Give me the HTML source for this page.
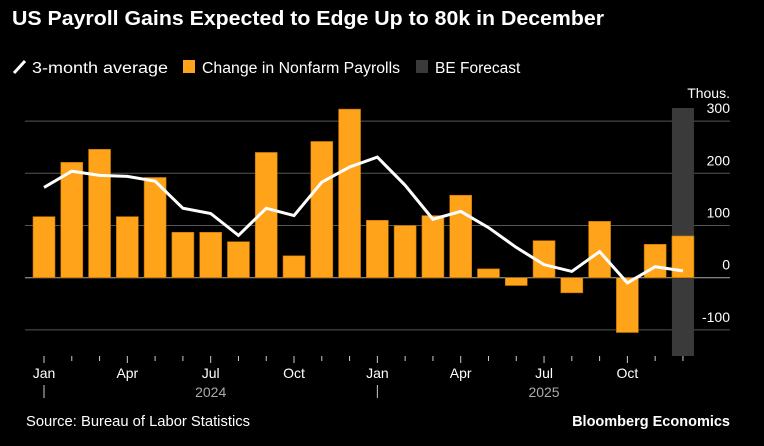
<!DOCTYPE html>
<html><head><meta charset="utf-8"><style>
body{margin:0;background:#000;width:764px;height:441px;overflow:hidden;font-family:"Liberation Sans",sans-serif;}
svg text{font-family:"Liberation Sans",sans-serif;}
</style></head><body>
<svg width="764" height="441">
<text x="12" y="25" fill="#fff" font-size="20" font-weight="bold" textLength="592" lengthAdjust="spacingAndGlyphs">US Payroll Gains Expected to Edge Up to 80k in December</text>
<g>
<line x1="14" y1="73" x2="25" y2="61" stroke="#fff" stroke-width="3"/>
<text x="32" y="73" fill="#fff" font-size="15.5" textLength="136" lengthAdjust="spacingAndGlyphs">3-month average</text>
<rect x="183" y="60" width="12" height="13" fill="#ffa31a"/>
<text x="202" y="73" fill="#fff" font-size="15.5" textLength="198" lengthAdjust="spacingAndGlyphs">Change in Nonfarm Payrolls</text>
<rect x="416" y="60" width="12" height="13" fill="#3a3a3a"/>
<text x="435" y="73" fill="#fff" font-size="15.5">BE Forecast</text>
</g>
<g id="grid"></g><g id="bars"></g><g id="line"></g><g id="axis"></g>
<text x="730" y="98" fill="#fff" font-size="14" text-anchor="end">Thous.</text>
<text x="26" y="426" fill="#fff" font-size="14.5" textLength="224" lengthAdjust="spacingAndGlyphs">Source: Bureau of Labor Statistics</text>
<text x="730" y="426" fill="#fff" font-size="14.5" font-weight="bold" text-anchor="end">Bloomberg Economics</text>
</svg>
<script>
const months=["Jan24","Feb24","Mar24","Apr24","May24","Jun24","Jul24","Aug24","Sep24","Oct24","Nov24","Dec24","Jan25","Feb25","Mar25","Apr25","May25","Jun25","Jul25","Aug25","Sep25","Oct25","Nov25","Dec25"];
const payrolls=[117,221,246,117,192,87,87,69,240,42,261,323,110,100,119,158,17,-15,71,-29,108,-105,64,80];
const avg3=[173,204,196,194,185,133,123,81,133,119,183,212,231,177,112,127,96,58,25,12,50,-10,21,13];
const yTicks=[300,200,100,0,-100];
const monthLabels=[["Jan",0],["Apr",3],["Jul",6],["Oct",9],["Jan",12],["Apr",15],["Jul",18],["Oct",21]];
const yearLabels=[["2024",6],["2025",18]];
const forecastIndex=23;
const NS="http://www.w3.org/2000/svg";
const y=v=>277.7-v*0.522;
const x=i=>44+i*27.78;
function mk(t,a,p){const e=document.createElementNS(NS,t);for(const k in a)e.setAttribute(k,a[k]);document.getElementById(p).appendChild(e);return e;}
yTicks.forEach(v=>{
 const l=mk("line",{x1:25,x2:730,y1:y(v),y2:y(v),stroke:v===0?"#aaa":"#555","stroke-width":1},"grid");
 
 
 const t=mk("text",{x:730,y:y(v)-8,fill:"#fff","font-size":14,"text-anchor":"end"},"grid");
 t.textContent=v;
 
 
});
const fb=mk("rect",{x:x(forecastIndex)-11,y:108,width:22,height:248,fill:"#3a3a3a"},"bars");


payrolls.forEach((v,i)=>{
 const r=mk("rect",{x:x(i)-11,y:Math.min(y(v),y(0)),width:22,height:Math.abs(y(v)-y(0)),fill:"#ffa31a",stroke:"#b86e00","stroke-width":0.6},"bars");
 
 
});
const p=mk("polyline",{points:avg3.map((v,i)=>x(i)+","+y(v)).join(" "),fill:"none",stroke:"#fff","stroke-width":3,"stroke-linejoin":"miter"},"line");


months.forEach((m,i)=>{
 const major=i%3===0;
 const tk=mk("line",{x1:x(i),x2:x(i),y1:356,y2:major?363:361,stroke:"#ccc","stroke-width":1},"axis");
 
 
});
monthLabels.forEach(([s,i])=>{
 const t=mk("text",{x:x(i),y:378,fill:"#fff","font-size":14,"text-anchor":"middle"},"axis");
 t.textContent=s;
 
 
});
[0,12].forEach(i=>{
 const l=mk("line",{x1:x(i),x2:x(i),y1:385,y2:398,stroke:"#ccc","stroke-width":1},"axis");
 
 
});
yearLabels.forEach(([s,i])=>{
 const t=mk("text",{x:x(i),y:397,fill:"#aaa","font-size":14,"text-anchor":"middle"},"axis");
 t.textContent=s;
 
 
});
</script>
</body></html>
